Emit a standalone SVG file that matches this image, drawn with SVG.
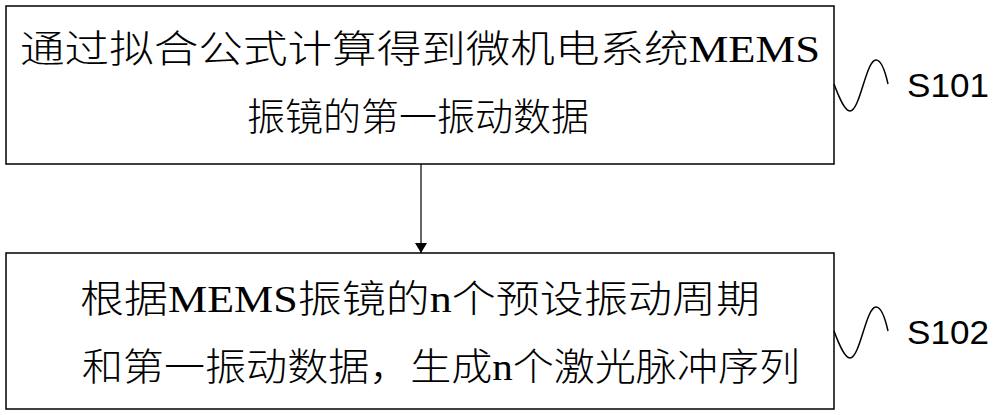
<svg xmlns="http://www.w3.org/2000/svg" width="1000" height="415" viewBox="0 0 1000 415">
<style>
.box{fill:#fff;stroke:#000;stroke-width:1.5}
.t{font-family:"Liberation Serif","Noto Sans CJK SC",serif;font-size:38px;font-weight:300;text-anchor:middle;fill:#000}
.s{font-family:"Liberation Sans",sans-serif;font-size:34px;fill:#000}
.w{fill:none;stroke:#000;stroke-width:1.5}
</style>
<defs><marker id="a" markerWidth="12" markerHeight="12" refX="10" refY="6" orient="auto" markerUnits="userSpaceOnUse"><path d="M0,0 L10,6 L0,12 z" fill="#000"/></marker></defs>
<rect width="1000" height="415" fill="#fff"/>
<g id="s101">
<rect class="box" x="6" y="6" width="828" height="158"/>
<text class="t" x="420" y="62" textLength="800" lengthAdjust="spacingAndGlyphs">通过拟合公式计算得到微机电系统MEMS</text>
<text class="t" x="418" y="130">振镜的第一振动数据</text>
<path class="w" d="M834,84 C840,100 845,111 850,111 C860,111 866,60 876,60 C882,60 886,75 888,84"/>
<text class="s" x="907" y="97" textLength="82" lengthAdjust="spacingAndGlyphs">S101</text>
</g>
<g id="s102">
<rect class="box" x="6" y="253" width="828" height="156"/>
<text class="t" x="420" y="312" textLength="680" lengthAdjust="spacingAndGlyphs">根据MEMS振镜的n个预设振动周期</text>
<text class="t" x="441" y="380" textLength="718" lengthAdjust="spacingAndGlyphs">和第一振动数据，生成n个激光脉冲序列</text>
<path class="w" d="M834,331 C840,347 845,358 850,358 C860,358 866,307 876,307 C882,307 886,322 888,331"/>
<text class="s" x="907" y="344" textLength="82" lengthAdjust="spacingAndGlyphs">S102</text>
</g>
<g id="connectors">
<line x1="421" y1="164" x2="421" y2="253" stroke="#000" stroke-width="1.2" marker-end="url(#a)"/>
</g>
</svg>
